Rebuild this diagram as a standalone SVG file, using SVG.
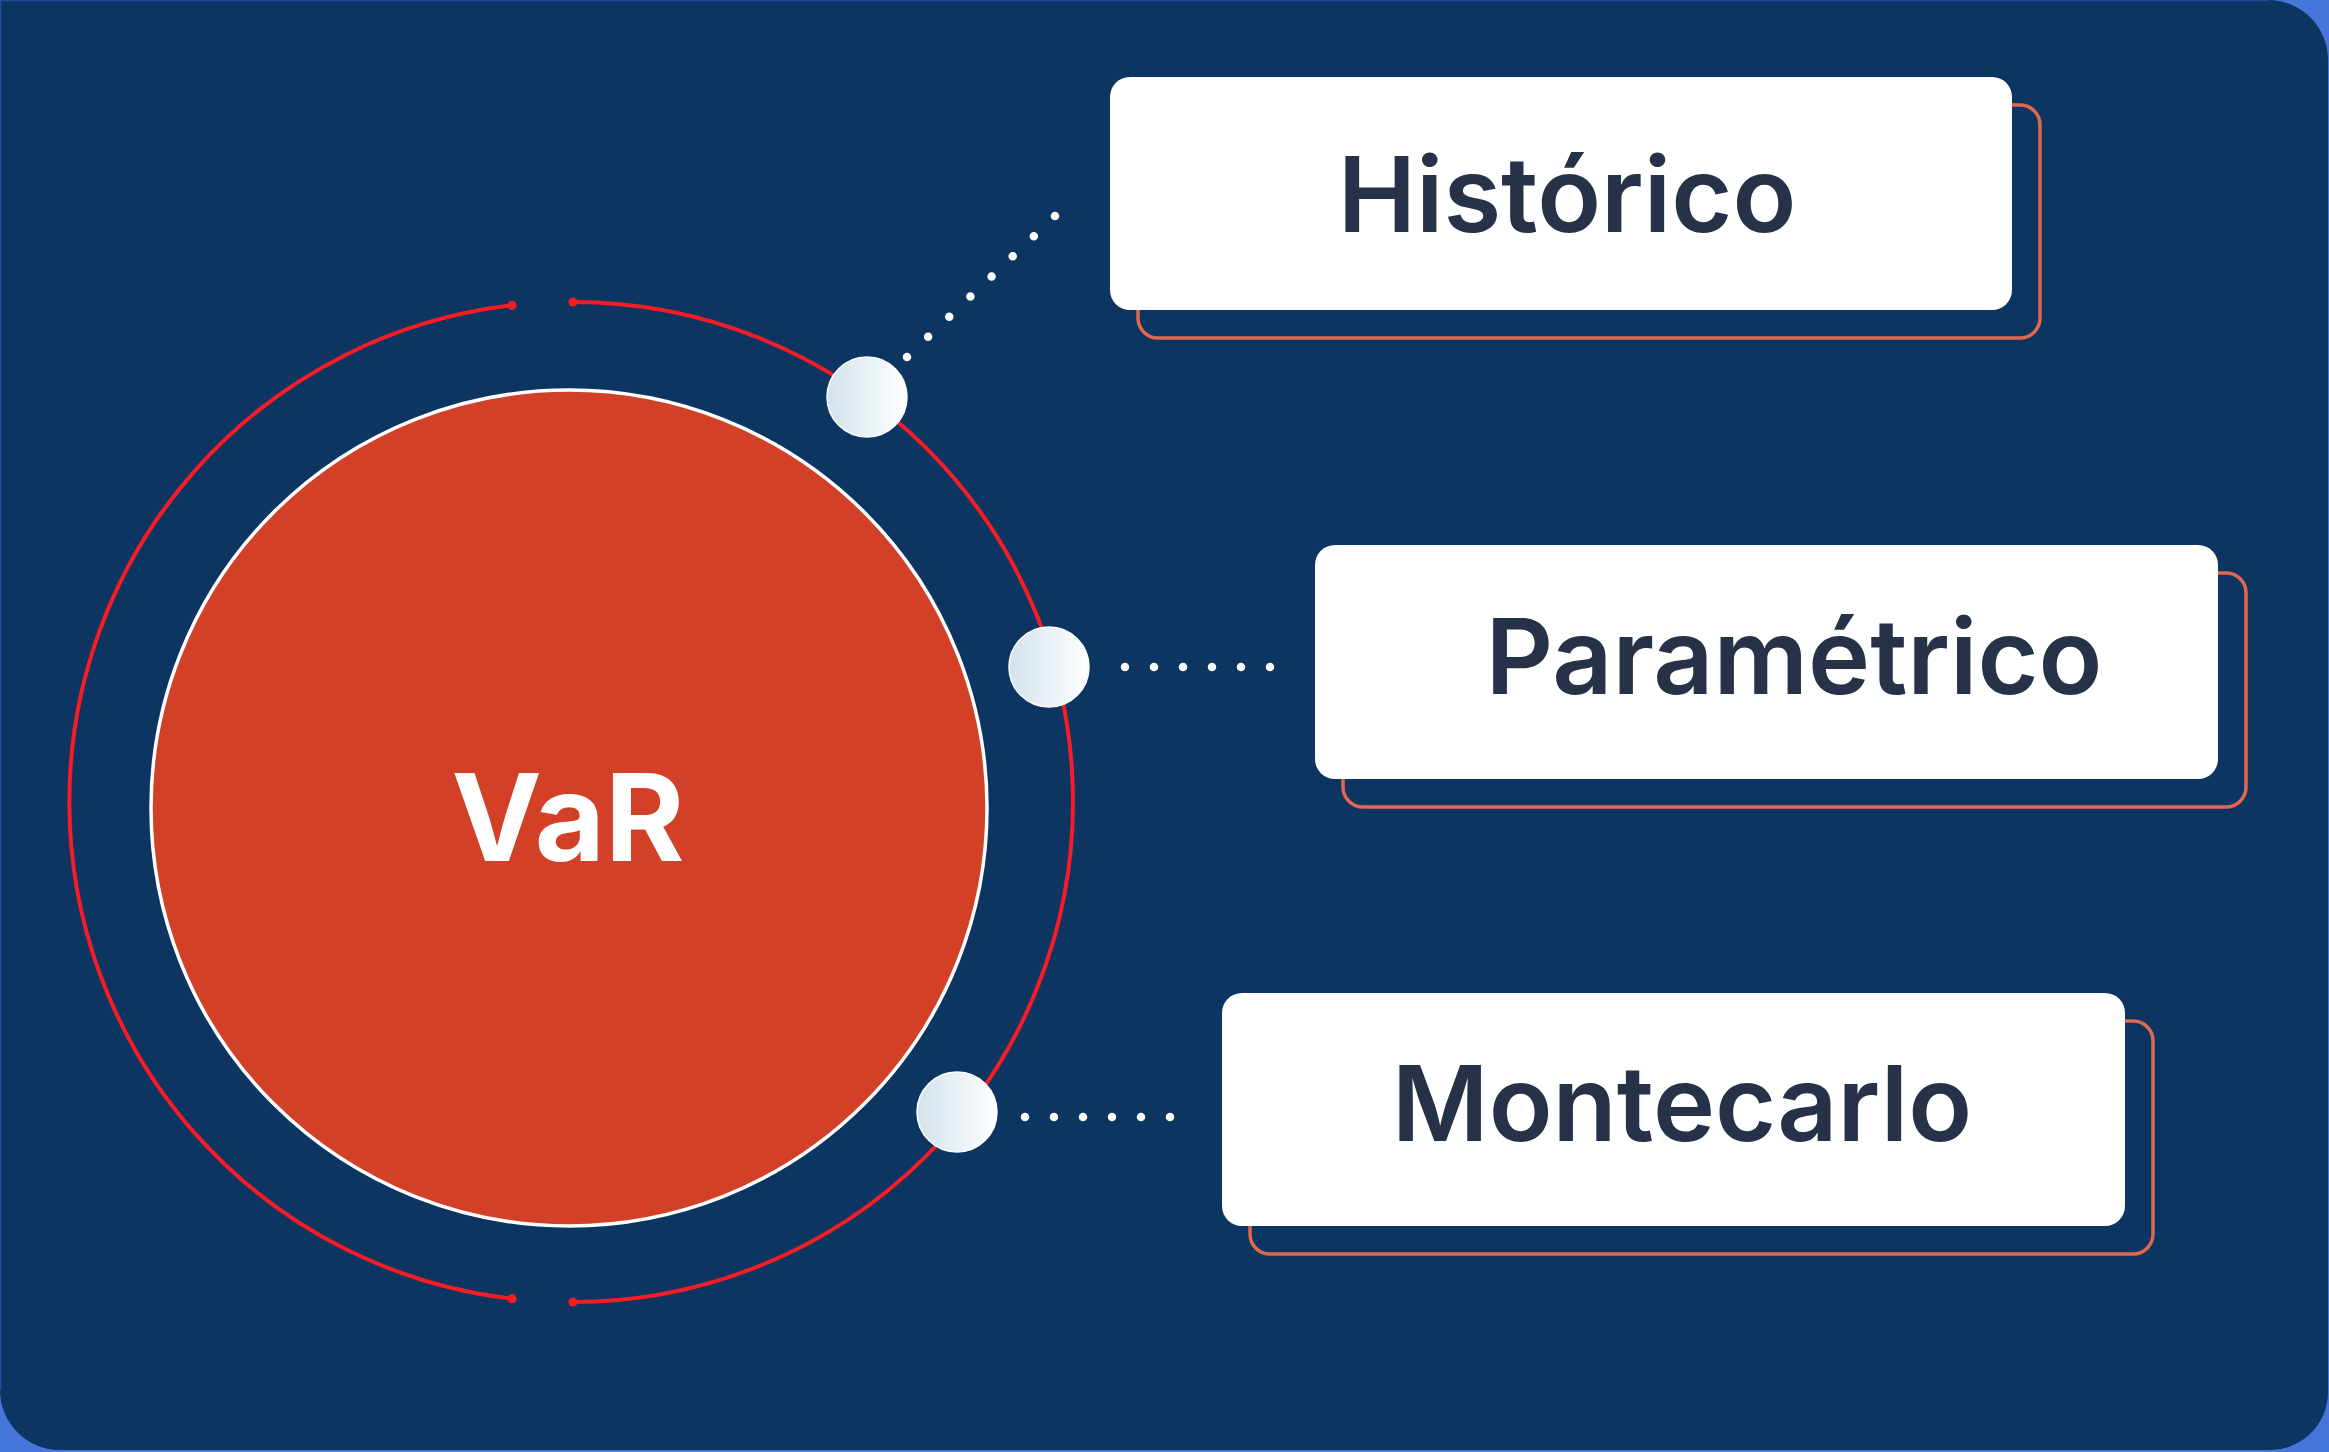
<svg xmlns="http://www.w3.org/2000/svg" width="2329" height="1452" viewBox="0 0 2329 1452">
  <style>
    .box { fill: #FFFFFF; }
    .shadow { fill: none; stroke: #E2674F; stroke-width: 3.5; }
    .label { font-family: Inter, "Noto Sans", "Liberation Sans", sans-serif; font-weight: 600; font-size: 105px; fill: #263248; text-anchor: middle; }
    .arc { fill: none; stroke: #F51C26; stroke-width: 4; }
    .cap { fill: #F51C26; }
    .dots { stroke: #FFFFFF; stroke-width: 8.5; stroke-linecap: round; fill: none; }
    .bead { fill: url(#beadGrad); stroke: #FFFFFF; stroke-width: 1.5; }
  </style>
  <defs>
    <linearGradient id="beadGrad" x1="0" y1="0" x2="1" y2="0">
      <stop offset="0" stop-color="#D2E3ED"/>
      <stop offset="1" stop-color="#FFFFFF"/>
    </linearGradient>
  </defs>

  <rect x="0" y="0" width="2329" height="1452" fill="#4675DB"/>
  <path d="M0,0 H2268 A60,60 0 0 1 2328,60 V1392 A58,58 0 0 1 2270,1450 H60 A60,60 0 0 1 0,1390 Z" fill="#0C3561"/>
  <path d="M0.5,1390 V0.5 H2268" fill="none" stroke="#1F4E9E" stroke-width="1.5"/>

  <g id="connectors">
    <path class="arc" d="M512,305.3 A500,500 0 0 0 512,1298.7"/>
    <path class="arc" d="M573,302 A500,500 0 1 1 573,1302"/>
    <circle class="cap" cx="512" cy="305.3" r="4.6"/>
    <circle class="cap" cx="512" cy="1298.7" r="4.6"/>
    <circle class="cap" cx="573" cy="302" r="4.6"/>
    <circle class="cap" cx="573" cy="1302" r="4.6"/>
    <line class="dots" x1="907" y1="357" x2="1055.5" y2="215.5" stroke-dasharray="0 29.2"/>
    <line class="dots" x1="1125" y1="667" x2="1270.5" y2="667" stroke-dasharray="0 29"/>
    <line class="dots" x1="1025" y1="1117" x2="1170.5" y2="1117" stroke-dasharray="0 29"/>
  </g>

  <g id="var">
    <circle cx="569" cy="808" r="418" fill="#D24127" stroke="#FFFFFF" stroke-width="3.5"/>
    <text x="568" y="861" font-family="Inter, 'Noto Sans', 'Liberation Sans', sans-serif" font-weight="700" font-size="121" fill="#FFFFFF" text-anchor="middle">VaR</text>
  </g>

  <g id="bead-historico"><circle class="bead" cx="867" cy="397" r="40"/></g>
  <g id="bead-parametrico"><circle class="bead" cx="1049" cy="667" r="40"/></g>
  <g id="bead-montecarlo"><circle class="bead" cx="957" cy="1112" r="40"/></g>

  <g id="historico">
    <rect class="shadow" x="1138" y="105" width="902" height="233" rx="20"/>
    <rect class="box" x="1110" y="77" width="902" height="233" rx="20"/>
    <text class="label" x="1567" y="232">Histórico</text>
  </g>

  <g id="parametrico">
    <rect class="shadow" x="1343" y="573" width="903" height="234" rx="20"/>
    <rect class="box" x="1315" y="545" width="903" height="234" rx="20"/>
    <text class="label" x="1794" y="694">Paramétrico</text>
  </g>

  <g id="montecarlo">
    <rect class="shadow" x="1250" y="1021" width="903" height="233" rx="20"/>
    <rect class="box" x="1222" y="993" width="903" height="233" rx="20"/>
    <text class="label" x="1682" y="1141">Montecarlo</text>
  </g>
</svg>
